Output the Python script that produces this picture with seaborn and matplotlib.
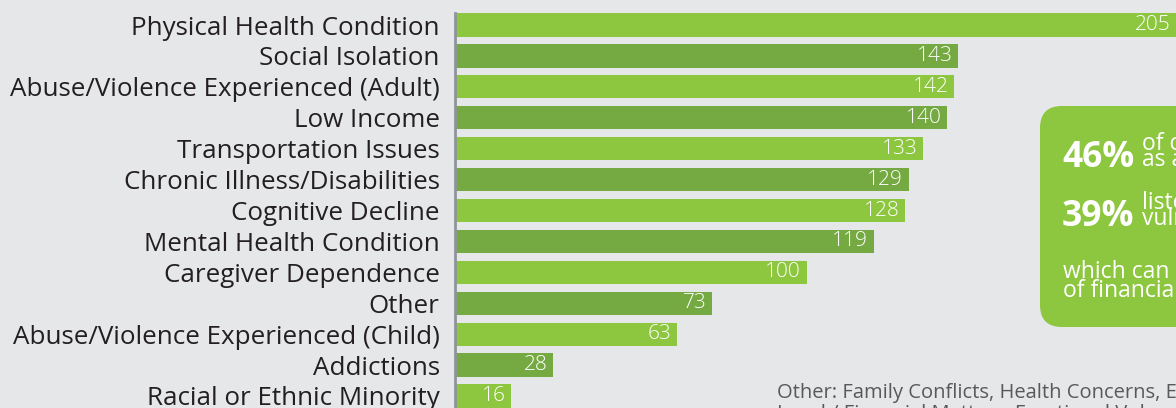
import matplotlib
matplotlib.use("Agg")
import matplotlib.pyplot as plt
import seaborn as sns
import pandas as pd
from matplotlib.patches import FancyBboxPatch

categories = ["Physical Health Condition", "Social Isolation", "Abuse/Violence Experienced (Adult)",
              "Low Income", "Transportation Issues", "Chronic Illness/Disabilities",
              "Cognitive Decline", "Mental Health Condition", "Caregiver Dependence", "Other",
              "Abuse/Violence Experienced (Child)", "Addictions", "Racial or Ethnic Minority"]
counts = [205, 143, 142, 140, 133, 129, 128, 119, 100, 73, 63, 28, 16]

stat_values = ["46%", "39%"]
stat_lines = [["of clients were identified", "as a senior at risk"],
              ["listed isolation as a", "vulnerability factor"]]
stat_footer = ["which can increase the risk", "of financial abuse"]
note_lines = ["Other: Family Conflicts, Health Concerns, Estrangement,",
              "Legal / Financial Matters, Emotional Vulnerability"]

light_green = "#8dc63f"
dark_green = "#75a942"
bg = "#e6e7e9"

sns.set_theme(style="white")
plt.rcParams["font.family"] = ["Open Sans", "DejaVu Sans"]

df = pd.DataFrame({"cat": categories, "n": counts})

fig = plt.figure(figsize=(11.76, 4.08), dpi=100, facecolor=bg)
ax = fig.add_axes([455 / 1176, 0, 1 - 455 / 1176, 395 / 408])
ax.set_facecolor(bg)

pal = [light_green if i % 2 == 0 else dark_green for i in range(len(categories))]
sns.barplot(data=df, x="n", y="cat", hue="cat", palette=pal, legend=False,
            width=0.75, saturation=1, linewidth=0, ax=ax)

ax.set_xlim(0, 205)
ax.set_ylim(12.39, -0.39)
ax.xaxis.set_visible(False)
ax.set_ylabel("")
for s in ["top", "right", "bottom"]:
    ax.spines[s].set_visible(False)
ax.spines["left"].set_color("#8f949c")
ax.spines["left"].set_linewidth(2)
ax.tick_params(axis="y", length=0, pad=11, labelsize=18.7, labelcolor="#231f20")

for i, v in enumerate(counts):
    ax.annotate(str(v), (v, i), xytext=(-4, 0), textcoords="offset points",
                ha="right", va="center", color="white", fontsize=15, fontweight="light")

# green callout box (inch coordinates)
box = FancyBboxPatch((10.40, 0.81), 2.0, 2.21, boxstyle="round,pad=0,rounding_size=0.22",
                     transform=fig.dpi_scale_trans, facecolor=light_green, edgecolor="none")
fig.patches.append(box)

def px(x, y):
    return x / 1176, 1 - y / 408

for k, (val, lines) in enumerate(zip(stat_values, stat_lines)):
    y0 = 167 + k * 59
    fig.text(*px(1062, y0), val, color="white", fontsize=25.5, fontweight="bold", va="baseline")
    fig.text(*px(1142, y0 - 17), lines[0], color="white", fontsize=16.5, va="baseline")
    fig.text(*px(1142, y0 - 1), lines[1], color="white", fontsize=16.5, va="baseline")

fig.text(*px(1063, 278), stat_footer[0], color="white", fontsize=16.5, va="baseline")
fig.text(*px(1063, 297), stat_footer[1], color="white", fontsize=16.5, va="baseline")

fig.text(*px(777, 398), note_lines[0], color="#58595b", fontsize=14.5, va="baseline")
fig.text(*px(777, 419), note_lines[1], color="#58595b", fontsize=14.5, va="baseline")

plt.savefig("out.png", dpi=100, facecolor=bg)
